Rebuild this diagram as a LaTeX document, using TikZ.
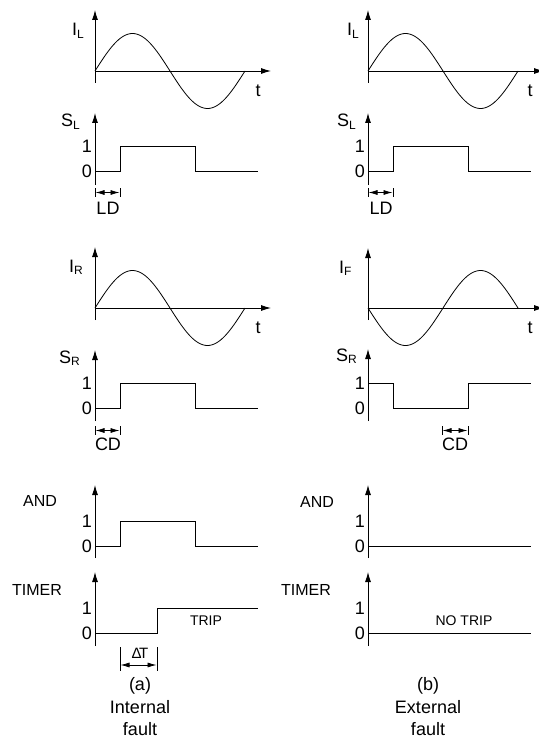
\documentclass[tikz,border=0pt]{standalone}
\usepackage{fontspec}
\setmainfont{Liberation Sans}
\usetikzlibrary{arrows.meta}
\newcommand\subs[1]{\raisebox{-2.5pt}{\fontsize{12}{12}\selectfont #1}}
\tikzset{
  ax/.style={line width=0.9pt,-{Latex[length=10pt,width=6pt]}},
  sig/.style={line width=0.9pt},
  wave/.style={line width=0.8pt},
  dimarr/.style={line width=0.7pt,{Latex[length=9pt,width=5pt]}-{Latex[length=9pt,width=5pt]}},
  dimbar/.style={line width=0.7pt},
  big/.style={font=\fontsize{18}{18}\selectfont, inner sep=0pt},
  mid/.style={font=\fontsize{16}{16}\selectfont, inner sep=0pt},
  sml/.style={font=\fontsize{14}{14}\selectfont, inner sep=0pt},
}
\begin{document}
\begin{tikzpicture}[x=1pt,y=-1pt]
\useasboundingbox (0,0) rectangle (538,738);
% ================= LEFT COLUMN =================
% I_L
\draw[ax] (95,83) -- (95,10);
\draw[ax] (95,71) -- (271,71);
\draw[wave] plot[domain=0:150,samples=90,smooth] ({95+\x},{71-37.5*sin(2.4*\x)});
\node[big,anchor=base west] (ILa) at (72,36) {I\subs{L}};
\node[big,anchor=base] (ta1) at (258,97) {t};
% S_L
\draw[ax] (95,185) -- (95,113);
\draw[sig] (95,171) -- (120,171) -- (120,146) -- (195,146) -- (195,171) -- (258,171);
\node[big,anchor=base west] (SLa) at (61,127) {S\subs{L}};
\node[big,anchor=east] (SLa1) at (92,146) {1};
\node[big,anchor=east] (SLa0) at (92,171) {0};
\draw[dimbar] (95,188) -- (95,197);
\draw[dimbar] (120,188) -- (120,197);
\draw[dimarr] (95.5,192.5) -- (119.5,192.5);
\node[big,anchor=center] (LDa) at (108,208) {LD};
% I_R
\draw[ax] (95,320) -- (95,247);
\draw[ax] (95,308) -- (271,308);
\draw[wave] plot[domain=0:150,samples=90,smooth] ({95+\x},{308-37.5*sin(2.4*\x)});
\node[big,anchor=base west] (IRa) at (69,272) {I\subs{R}};
\node[big,anchor=base] (ta2) at (258,333) {t};
% S_R
\draw[ax] (95,421) -- (95,350);
\draw[sig] (95,408) -- (120,408) -- (120,383) -- (195,383) -- (195,408) -- (258,408);
\node[big,anchor=base west] (SRa) at (59,363) {S\subs{R}};
\node[big,anchor=east] (SRa1) at (92,383) {1};
\node[big,anchor=east] (SRa0) at (92,408) {0};
\draw[dimbar] (95,426) -- (95,435);
\draw[dimbar] (120,426) -- (120,435);
\draw[dimarr] (95.5,430.5) -- (119.5,430.5);
\node[big,anchor=center] (CDa) at (108,444) {CD};
% AND
\draw[ax] (95,558) -- (95,485);
\draw[sig] (95,546) -- (120,546) -- (120,521) -- (195,521) -- (195,546) -- (258,546);
\node[mid,anchor=base] (ANDa) at (40,506) {AND};
\node[big,anchor=east] (ANDa1) at (92,521) {1};
\node[big,anchor=east] (ANDa0) at (92,546) {0};
% TIMER
\draw[ax] (95,646) -- (95,572);
\draw[sig] (95,633) -- (157,633) -- (157,608) -- (258,608);
\node[mid,anchor=base] (TIMa) at (37,595) {TIMER};
\node[big,anchor=east] (TIMa1) at (92,608) {1};
\node[big,anchor=east] (TIMa0) at (92,633) {0};
\node[sml,anchor=base] (TRIP) at (206,625) {TRIP};
\draw[dimbar] (120,647) -- (120,671);
\draw[dimbar] (157,647) -- (157,671);
\draw[dimarr] (120.5,665) -- (156.5,665);
\node[font=\fontsize{15}{15}\selectfont,inner sep=0pt,anchor=base] (DTa) at (140,658) {Δ\kern-2.5pt T};
\node[big,anchor=base] (capa1) at (140,690) {(a)};
\node[big,anchor=base] (capa2) at (140,713) {Internal};
\node[big,anchor=base] (capa3) at (140,735) {fault};
% ================= RIGHT COLUMN =================
% I_L
\draw[ax] (368,83) -- (368,10);
\draw[ax] (368,71) -- (544,71);
\draw[wave] plot[domain=0:150,samples=90,smooth] ({368+\x},{71-37.5*sin(2.4*\x)});
\node[big,anchor=base west] (ILb) at (347,36) {I\subs{L}};
\node[big,anchor=base] (tb1) at (530,97) {t};
% S_L
\draw[ax] (368,185) -- (368,113);
\draw[sig] (368,171) -- (393,171) -- (393,146) -- (468,146) -- (468,171) -- (531,171);
\node[big,anchor=base west] (SLb) at (337,127) {S\subs{L}};
\node[big,anchor=east] (SLb1) at (365,146) {1};
\node[big,anchor=east] (SLb0) at (365,171) {0};
\draw[dimbar] (368,188) -- (368,197);
\draw[dimbar] (393,188) -- (393,197);
\draw[dimarr] (368.5,192.5) -- (392.5,192.5);
\node[big,anchor=center] (LDb) at (381,208) {LD};
% I_F
\draw[ax] (368,320) -- (368,248);
\draw[ax] (368,308) -- (544,308);
\draw[wave] plot[domain=0:150,samples=90,smooth] ({368+\x},{308+37.5*sin(2.4*\x)});
\node[big,anchor=base west] (IFb) at (339,273) {I\subs{F}};
\node[big,anchor=base] (tb2) at (530,333) {t};
% S_R
\draw[ax] (368,421) -- (368,349);
\draw[sig] (368,383) -- (393,383) -- (393,408) -- (468,408) -- (468,383) -- (531,383);
\node[big,anchor=base west] (SRb) at (336,361) {S\subs{R}};
\node[big,anchor=east] (SRb1) at (365,383) {1};
\node[big,anchor=east] (SRb0) at (365,408) {0};
\draw[dimbar] (442,426) -- (442,435);
\draw[dimbar] (468,426) -- (468,435);
\draw[dimarr] (442.5,430.5) -- (467.5,430.5);
\node[big,anchor=center] (CDb) at (455,444) {CD};
% AND
\draw[ax] (368,558) -- (368,485);
\draw[sig] (368,546) -- (531,546);
\node[mid,anchor=base] (ANDb) at (317,507) {AND};
\node[big,anchor=east] (ANDb1) at (365,521) {1};
\node[big,anchor=east] (ANDb0) at (365,546) {0};
% TIMER
\draw[ax] (368,646) -- (368,572);
\draw[sig] (368,633) -- (531,633);
\node[mid,anchor=base] (TIMb) at (306,595) {TIMER};
\node[big,anchor=east] (TIMb1) at (365,608) {1};
\node[big,anchor=east] (TIMb0) at (365,633) {0};
\node[sml,anchor=base] (NOTRIP) at (464,625) {NO TRIP};
\node[big,anchor=base] (capb1) at (428,690) {(b)};
\node[big,anchor=base] (capb2) at (428,713) {External};
\node[big,anchor=base] (capb3) at (428,735) {fault};
\end{tikzpicture}
\end{document}
